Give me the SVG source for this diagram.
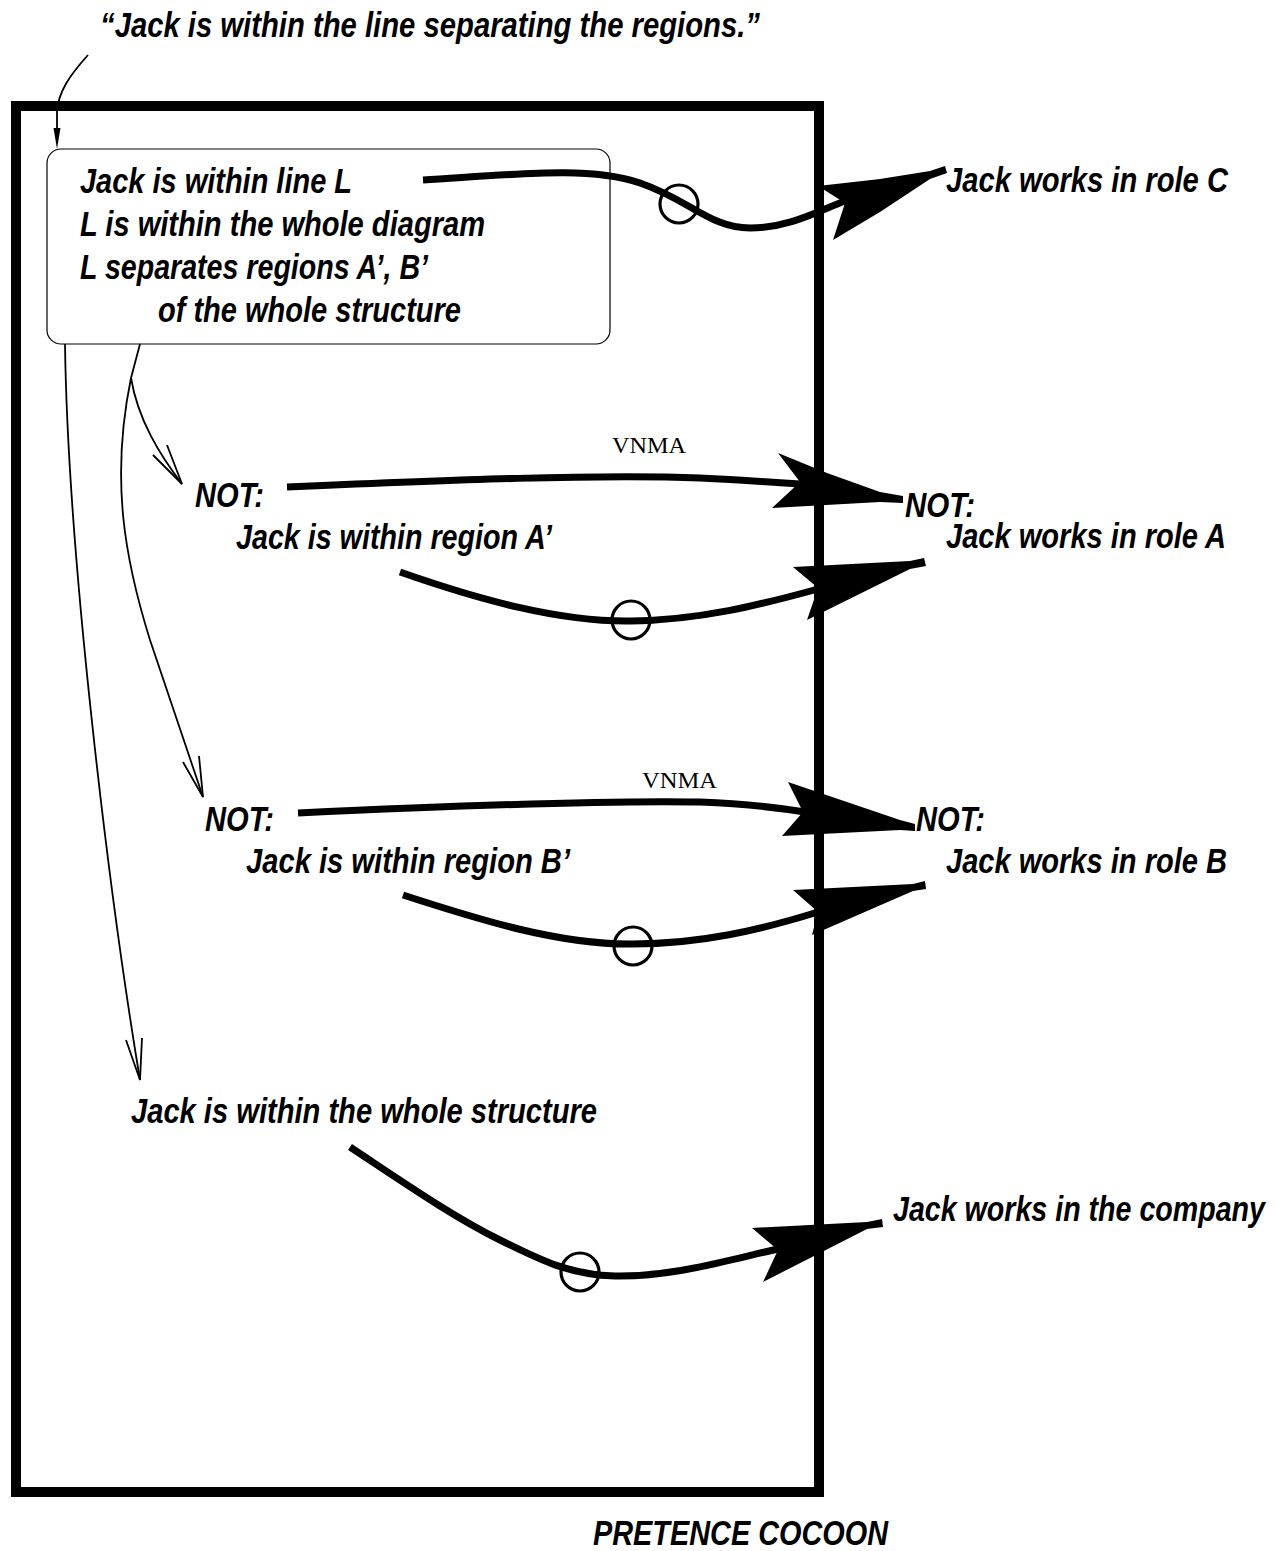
<svg xmlns="http://www.w3.org/2000/svg" width="1285" height="1551" viewBox="0 0 1285 1551">
<style>
.t{font-family:"Liberation Sans",Arial,sans-serif;font-weight:bold;font-style:italic;font-size:35px;fill:#000}
.v{font-family:"Liberation Serif","Times New Roman",serif;font-size:23px;fill:#000}
.thick{fill:none;stroke:#000;stroke-width:7;stroke-linecap:butt}
.thin{fill:none;stroke:#000;stroke-width:1.8}
.head{fill:#000;stroke:none}
.circ{fill:none;stroke:#000;stroke-width:3.2}
</style>
<rect width="1285" height="1551" fill="#fff"/>

<g id="cocoon">
<rect x="16" y="106" width="803" height="1386" fill="none" stroke="#000" stroke-width="10"/>
<text class="t" x="593" y="1545" textLength="295" lengthAdjust="spacingAndGlyphs">PRETENCE COCOON</text>
</g>

<g id="quote">
<text class="t" x="100" y="37" textLength="660" lengthAdjust="spacingAndGlyphs">“Jack is within the line separating the regions.”</text>
</g>

<g id="box">
<rect x="47" y="149" width="563" height="195" rx="14" ry="14" fill="#fff" stroke="#000" stroke-width="1.2"/>
<text class="t" x="80" y="193" textLength="272" lengthAdjust="spacingAndGlyphs">Jack is within line L</text>
<text class="t" x="80" y="236" textLength="405" lengthAdjust="spacingAndGlyphs">L is within the whole diagram</text>
<text class="t" x="80" y="279" textLength="348" lengthAdjust="spacingAndGlyphs">L separates regions A’, B’</text>
<text class="t" x="158" y="322" textLength="303" lengthAdjust="spacingAndGlyphs">of the whole structure</text>
</g>

<g id="roleC"><text class="t" x="946" y="192" textLength="282" lengthAdjust="spacingAndGlyphs">Jack works in role C</text></g>
<g id="notA"><text class="t" x="195" y="507" textLength="69" lengthAdjust="spacingAndGlyphs">NOT:</text>
<text class="t" x="236" y="549" textLength="316" lengthAdjust="spacingAndGlyphs">Jack is within region A’</text></g>
<g id="notRoleA"><text class="t" x="905" y="517" textLength="70" lengthAdjust="spacingAndGlyphs">NOT:</text>
<text class="t" x="946" y="548" textLength="280" lengthAdjust="spacingAndGlyphs">Jack works in role A</text></g>
<g id="notB"><text class="t" x="205" y="831" textLength="69" lengthAdjust="spacingAndGlyphs">NOT:</text>
<text class="t" x="246" y="873" textLength="324" lengthAdjust="spacingAndGlyphs">Jack is within region B’</text></g>
<g id="notRoleB"><text class="t" x="916" y="831" textLength="69" lengthAdjust="spacingAndGlyphs">NOT:</text>
<text class="t" x="946" y="873" textLength="281" lengthAdjust="spacingAndGlyphs">Jack works in role B</text></g>
<g id="whole"><text class="t" x="131" y="1123" textLength="466" lengthAdjust="spacingAndGlyphs">Jack is within the whole structure</text></g>
<g id="company"><text class="t" x="893" y="1221" textLength="372" lengthAdjust="spacingAndGlyphs">Jack works in the company</text></g>

<g id="connectors">
<path class="thin" d="M88,55 C70,75 58,92 57,112 L57,132"/>
<polygon class="head" points="57,149 53.5,128 60.5,128"/>

<path class="thin" d="M140,344 L131,378 C138,420 160,455 182,484"/>
<polyline class="thin" points="153,455 182,484 167,445"/>
<path class="thin" d="M131,378 C110,480 125,560 150,640 C170,700 190,760 203,797"/>
<polyline class="thin" points="183,762 203,797 199,756"/>
<path class="thin" d="M65,344 C68,560 110,900 140,1080"/>
<polyline class="thin" points="126,1040 140,1080 142,1038"/>

<path class="thick" d="M423,180 C520,174 590,166 640,183 C690,200 710,228 750,228 C790,228 820,210 845,201"/>
<circle class="circ" cx="679" cy="204" r="19"/>
<polygon class="head" points="818,186 880,179 930,171 945,166 947,173 930,179 880,212 833,240 845,203"/>

<text class="v" x="612" y="453" textLength="74" lengthAdjust="spacingAndGlyphs">VNMA</text>
<path class="thick" d="M287,487 C450,480 600,474 700,478 C740,480 770,482 800,484"/>
<polygon class="head" points="778,453 827,473 880,492 903,496 903,503 880,502 772,508 800,482"/>

<path class="thick" d="M400,572 C480,600 560,622 631,621 C700,620 760,605 818,589"/>
<circle class="circ" cx="631" cy="620" r="19"/>
<polygon class="head" points="793,567 910,561 924,558 926,566 910,569 807,620 818,588"/>

<text class="v" x="642" y="788" textLength="75" lengthAdjust="spacingAndGlyphs">VNMA</text>
<path class="thick" d="M298,813 C450,806 600,800 700,802 C750,804 780,808 805,812"/>
<polygon class="head" points="788,782 900,820 915,824 915,831 900,830 782,836 803,812"/>

<path class="thick" d="M403,895 C480,920 560,945 633,944 C700,944 760,930 818,912"/>
<circle class="circ" cx="633" cy="946" r="19"/>
<polygon class="head" points="793,890 913,884 925,881 926,889 913,891 812,935 818,912"/>

<path class="thick" d="M350,1147 C400,1180 450,1215 500,1240 C540,1260 570,1275 615,1276 C670,1277 720,1262 778,1249"/>
<circle class="circ" cx="580" cy="1272" r="19"/>
<polygon class="head" points="752,1228 867,1222 882,1219 883,1227 867,1229 763,1282 778,1250"/>
</g>
</svg>
